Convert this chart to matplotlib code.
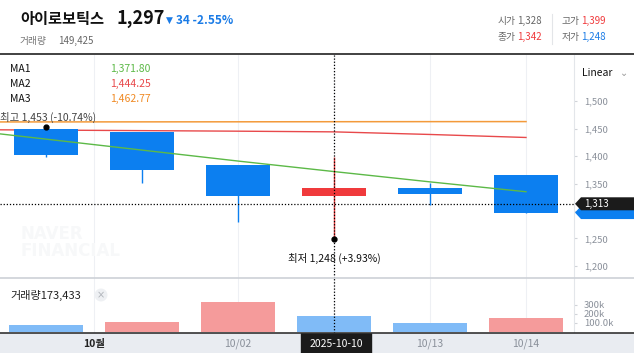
import matplotlib
matplotlib.use('Agg')
import matplotlib.pyplot as plt
from matplotlib.patches import Rectangle, Polygon

plt.rcParams['font.family'] = ['Noto Sans CJK KR', 'DejaVu Sans']

W, H = 634, 353

# daily candles (Naver chart, 아이로보틱스)
dates = ['09/30', '10/01', '10/02', '10/10', '10/13', '10/14']
opens = [1450, 1444, 1383, 1328, 1342, 1366]
highs = [1453, 1444, 1384, 1399, 1351, 1366]
lows = [1398, 1351, 1280, 1248, 1311, 1297]
closes = [1402, 1375, 1328, 1342, 1331, 1297]
volumes = [70000, 110000, 330000, 173433, 100000, 149425]

# moving averages, first value belongs to the day before the window
ma_x = [-1, 0, 1, 2, 3, 4, 5]
ma1 = [1451, 1431, 1411, 1391, 1371.8, 1353, 1335]
ma2 = [1448.5, 1447.5, 1446.5, 1445.5, 1444.25, 1439.5, 1434]
ma3 = [1462.3, 1462.4, 1462.5, 1462.6, 1462.77, 1462.9, 1463.0]

tick_pos = [0.5, 2, 3, 4, 5]
tick_labels = ['10월', '10/02', '2025-10-10', '10/13', '10/14']
price_ticks = [1200, 1250, 1300, 1350, 1400, 1450, 1500]
vol_ticks = [100000, 200000, 300000]
vol_tick_labels = ['100.0k', '200k', '300k']

cross_idx = 3
cross_price = 1313

RED = '#f03a3c'
BLUE = '#0c7ff0'
VRED = '#f59b9b'
VBLUE = '#80bbf7'
GRID = '#eef0f4'
AX_TXT = '#8a909a'


def rect(x0, y0, x1, y1):
    # pixel box (top-left origin) -> figure fraction [l, b, w, h]
    return [x0 / W, 1 - y1 / H, (x1 - x0) / W, (y1 - y0) / H]


def fx(x):
    return x / W


def fy(y):
    return 1 - y / H


fig = plt.figure(figsize=(W / 100, H / 100), dpi=100)
xlim = (-0.479, 5.5)
plim = (1177.6, 1584.5)

# ---- price panel
ax = fig.add_axes(rect(0, 55, 574, 278))
ax.set_xlim(*xlim)
ax.set_ylim(*plim)
for s in ['top', 'left', 'bottom']:
    ax.spines[s].set_visible(False)
ax.spines['right'].set_color('#e3e6ea')
ax.yaxis.tick_right()
ax.set_yticks(price_ticks)
ax.set_yticklabels([f'{t:,}' for t in price_ticks])
ax.tick_params(axis='y', length=2, pad=5, colors='#d0d3d8',
               labelcolor=AX_TXT, labelsize=6.8)
ax.set_xticks(tick_pos)
ax.tick_params(axis='x', length=0, labelbottom=False)
ax.grid(axis='x', color=GRID, lw=0.8)

ax.text(0.035, 0.16, 'NAVER\nFINANCIAL', transform=ax.transAxes,
        fontsize=12, fontweight='bold', color='#f7f8f9', linespacing=0.9,
        family='DejaVu Sans', va='center')

ax.plot(ma_x, ma3, color='#f39a3a', lw=1.1, zorder=2)
ax.plot(ma_x, ma2, color='#e8494b', lw=1.0, zorder=2)
ax.plot(ma_x, ma1, color='#5cb947', lw=1.0, zorder=4)

for i in range(len(dates)):
    up = closes[i] >= opens[i]
    c = RED if up else BLUE
    ax.vlines(i, lows[i], highs[i], color=c, lw=1.0, zorder=3)
    ax.bar(i, abs(closes[i] - opens[i]), bottom=min(opens[i], closes[i]),
           width=0.66, color=c, zorder=3)

ax.axvline(cross_idx, color='black', lw=0.9, ls=(0, (1, 1.5)), zorder=5)
ax.axhline(cross_price, color='black', lw=0.9, ls=(0, (1, 1.5)), zorder=5)

hi = highs.index(max(highs))
lo = lows.index(min(lows))
ax.plot(hi, highs[hi], 'o', color='black', ms=3.5, zorder=6)
ax.annotate(f'최고 {highs[hi]:,} (-10.74%)', (hi, highs[hi]),
            xytext=(-33, 7), textcoords='offset points', ha='left',
            va='center', fontsize=7.5, color='#444444', zorder=6)
ax.plot(lo, lows[lo], 'o', color='black', ms=3.5, zorder=6)
ax.annotate(f'최저 {lows[lo]:,} (+3.93%)', (lo, lows[lo]),
            xytext=(0, -14), textcoords='offset points', ha='center',
            va='center', fontsize=7.5, color='#111111', zorder=6)

# ---- volume panel
vax = fig.add_axes(rect(0, 278, 574, 333))
vax.set_xlim(*xlim)
vax.set_ylim(-15000, 600000)
for s in ['top', 'left', 'bottom']:
    vax.spines[s].set_visible(False)
vax.spines['right'].set_color('#e3e6ea')
vax.yaxis.tick_right()
vax.set_yticks(vol_ticks)
vax.set_yticklabels(vol_tick_labels)
vax.tick_params(axis='y', length=2, pad=5, colors='#d0d3d8',
                labelcolor=AX_TXT, labelsize=6.8)
vax.set_xticks(tick_pos)
vax.tick_params(axis='x', length=0, labelbottom=False)
vax.grid(axis='x', color=GRID, lw=0.8)
vcolors = [VBLUE] + [VRED if volumes[i] > volumes[i - 1] else VBLUE
                     for i in range(1, len(volumes))]
vax.bar(range(len(volumes)), volumes, width=0.78, color=vcolors, zorder=3)
vax.axvline(cross_idx, color='black', lw=0.9, ls=(0, (1, 1.5)), zorder=5)
fig.text(fx(10), fy(295), f'거래량{volumes[cross_idx]:,}', fontsize=8,
         color='#222222', va='center')
fig.text(fx(101), fy(295), '×', fontsize=7, color='#b0b4ba', ha='center',
         va='center', family='DejaVu Sans',
         bbox=dict(boxstyle='circle,pad=0.15', fc='#eef0f3', ec='none'))

# ---- date band
dax = fig.add_axes(rect(0, 333, 634, 353))
dax.set_xlim(xlim[0], xlim[0] + (xlim[1] - xlim[0]) * 634 / 574)
dax.set_ylim(0, 1)
dax.set_facecolor('#e9ecf1')
for s in ['left', 'right', 'bottom']:
    dax.spines[s].set_visible(False)
dax.spines['top'].set_color('#333333')
dax.spines['top'].set_linewidth(1.2)
dax.set_xticks([])
dax.set_yticks([])
dax.add_patch(Rectangle((cross_idx - 0.345, 0), 0.73, 1, color='#1b1b1b'))
for p, lab in zip(tick_pos, tick_labels):
    if lab == '2025-10-10':
        dax.text(p + 0.02, 0.45, lab, ha='center', va='center', fontsize=7.5,
                 color='white')
    elif lab == '10월':
        dax.text(p, 0.45, lab, ha='center', va='center', fontsize=7.5,
                 color='#222222', fontweight='bold')
    else:
        dax.text(p, 0.45, lab, ha='center', va='center', fontsize=7.5,
                 color=AX_TXT)

# ---- lines across the figure
fig.add_artist(plt.Line2D([0, 1], [fy(54), fy(54)], color='#333333', lw=1.3))
fig.add_artist(plt.Line2D([0, 1], [fy(278), fy(278)], color='#cdd1d7', lw=1.2))
fig.add_artist(plt.Line2D([fx(552), fx(552)], [fy(14), fy(44)],
                          color='#e3e5e8', lw=0.8))

# ---- header
fig.text(fx(20), fy(19), '아이로보틱스', fontsize=11, fontweight='bold',
         va='center', color='#111111')
fig.text(fx(116), fy(19), f'{closes[-1]:,}', fontsize=13, fontweight='bold',
         va='center', color='#111111')
fig.text(fx(166), fy(20), '▼', fontsize=6.5, va='center', color='#1a7be6',
         family='DejaVu Sans')
fig.text(fx(176), fy(20), '34 -2.55%', fontsize=8.5, va='center',
         color='#1a7be6', fontweight='bold')
fig.text(fx(20), fy(41), '거래량', fontsize=7, va='center', color='#777777')
fig.text(fx(58), fy(41), f'{volumes[-1]:,}', fontsize=7, va='center',
         color='#666666')

fig.text(fx(498), fy(21), '시가', fontsize=7, va='center', color='#666666')
fig.text(fx(517), fy(21), f'{opens[cross_idx]:,}', fontsize=7, va='center',
         color='#666666')
fig.text(fx(498), fy(37), '종가', fontsize=7, va='center', color='#666666')
fig.text(fx(517), fy(37), f'{closes[cross_idx]:,}', fontsize=7, va='center',
         color=RED)
fig.text(fx(562), fy(21), '고가', fontsize=7, va='center', color='#666666')
fig.text(fx(581), fy(21), f'{highs[cross_idx]:,}', fontsize=7, va='center',
         color=RED)
fig.text(fx(562), fy(37), '저가', fontsize=7, va='center', color='#666666')
fig.text(fx(581), fy(37), f'{lows[cross_idx]:,}', fontsize=7, va='center',
         color='#1a7be6')

# ---- MA legend
for k, (name, vals, col) in enumerate([('MA1', ma1, '#5cb947'),
                                       ('MA2', ma2, '#e8494b'),
                                       ('MA3', ma3, '#f08a24')]):
    y = 69 + 15 * k
    fig.text(fx(10), fy(y), name, fontsize=7.5, va='center', color='#111111')
    fig.text(fx(110), fy(y), f'{vals[cross_idx + 1]:,.2f}', fontsize=7.5,
             va='center', color=col)

fig.text(fx(582), fy(73), 'Linear', fontsize=7.5, va='center', color='#111111')
fig.text(fx(620), fy(73), '⌄', fontsize=7, va='center', color='#999999',
         family='DejaVu Sans')


# ---- price tags on the right axis
def price_to_py(p):
    return 55 + (plim[1] - p) / (plim[1] - plim[0]) * (278 - 55)


def tag(price, color, z, show_text=True):
    y = price_to_py(price)
    pts = [(575, y), (581, y - 6.5), (634, y - 6.5), (634, y + 6.5),
           (581, y + 6.5)]
    fig.add_artist(Polygon([(fx(a), fy(b)) for a, b in pts], closed=True,
                           fc=color, ec='none', zorder=z,
                           transform=fig.transFigure))
    if show_text:
        fig.text(fx(584), fy(y), f'{price:,}', fontsize=7, va='center',
                 color='white', zorder=z + 0.1)


tag(closes[-1], BLUE, 5, show_text=False)
tag(cross_price, '#1b1b1b', 6)

fig.savefig('out.png', dpi=100)
